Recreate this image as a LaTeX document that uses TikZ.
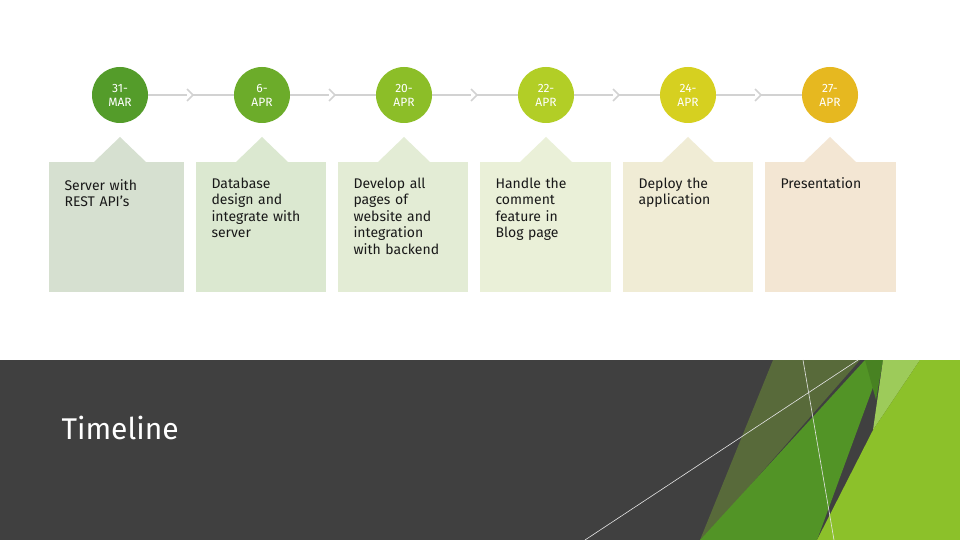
\documentclass[tikz,border=0pt]{standalone}
\usepackage{fontspec}
\setmainfont{Fira Sans}
\begin{document}
\begin{tikzpicture}[x=1pt,y=-1pt,
  dot/.style={circle,minimum size=56pt,inner sep=0pt,text=white,font=\fontsize{12}{13}\selectfont\lightweight,align=center},
  card/.style={inner sep=0pt},
  conn/.style={draw=gray!35,line width=1.2pt},
  lbl/.style={anchor=north west,align=left,text width=112pt,font=\fontsize{14}{16.5}\selectfont,text=black!90}]
\def\lightweight{\addfontfeatures{}}
\useasboundingbox (0,0) rectangle (960,540);
\fill[white] (0,0) rectangle (960,540);
% bottom band
\fill[black!75] (0,360) rectangle (960,540);
\fill[fill={rgb,255:red,88;green,106;blue,58}] (773,360) -- (860,360) -- (733,505) -- (700,540) -- cycle;
\fill[fill={rgb,255:red,82;green,148;blue,38}] (700,540) -- (865,360) -- (883,360) -- (817,540) -- cycle;
\fill[fill={rgb,255:red,72;green,130;blue,34}] (865,360) -- (883,360) -- (876,400) -- cycle;
\fill[fill={rgb,255:red,157;green,203;blue,90}] (883,360) -- (920,360) -- (873,430) -- cycle;
\fill[fill={rgb,255:red,140;green,193;blue,42}] (920,360) -- (960,360) -- (960,540) -- (817,540) -- (873,430) -- cycle;
\draw[white!80!gray,line width=0.6pt] (585,540) -- (858,360);
\draw[white!80!gray,line width=0.6pt] (803,360) -- (834,540);
\node[anchor=west,text=white,font=\fontsize{30}{34}\selectfont] (title) at (58,428) {Timeline};
% cards
\foreach \i/\xa/\xb/\cx/\col/\cc/\txt in {
 1/49/184/120/{rgb,255:red,214;green,224;blue,208}/{rgb,255:red,84;green,156;blue,42}/{Server with\\REST API’s},
 2/196/326/262/{rgb,255:red,219;green,232;blue,208}/{rgb,255:red,108;green,172;blue,42}/{Database\\design and\\integrate with\\server},
 3/338/468/404/{rgb,255:red,227;green,236;blue,213}/{rgb,255:red,140;green,190;blue,40}/{Develop all\\pages of\\website and\\integration\\with backend},
 4/480/611/546/{rgb,255:red,234;green,240;blue,216}/{rgb,255:red,178;green,206;blue,38}/{Handle the\\comment\\feature in\\Blog page},
 5/623/753/688/{rgb,255:red,240;green,236;blue,213}/{rgb,255:red,214;green,208;blue,32}/{Deploy the\\application},
 6/765/896/830/{rgb,255:red,243;green,230;blue,211}/{rgb,255:red,230;green,184;blue,32}/{Presentation}}{
  \fill[fill=\col] (\xa,162) rectangle (\xb,292);
  \fill[fill=\col] (\cx-26,162) -- (\cx,137) -- (\cx+26,162) -- cycle;
  \node[lbl] (t\i) at (\xa+12,\ifnum\i=1 176\else 174\fi) {\txt};
  \node[dot,fill=\cc] (c\i) at (\cx,95) {};
}
\node[text=white,align=center,font=\fontsize{12}{14}\selectfont] at (c1) {31-\\MAR};
\node[text=white,align=center,font=\fontsize{12}{14}\selectfont] at (c2) {6-\\APR};
\node[text=white,align=center,font=\fontsize{12}{14}\selectfont] at (c3) {20-\\APR};
\node[text=white,align=center,font=\fontsize{12}{14}\selectfont] at (c4) {22-\\APR};
\node[text=white,align=center,font=\fontsize{12}{14}\selectfont] at (c5) {24-\\APR};
\node[text=white,align=center,font=\fontsize{12}{14}\selectfont] at (c6) {27-\\APR};
\foreach \a/\b in {1/2,2/3,3/4,4/5,5/6}{
  \draw[conn] (c\a) -- (c\b);
  \path (c\a) -- (c\b) coordinate[pos=0.5] (m\a);
  \draw[conn,line width=1.6pt,fill=white] ([xshift=-4pt,yshift=-6pt]m\a) -- ([xshift=2pt]m\a) -- ([xshift=-4pt,yshift=6pt]m\a);
}
\end{tikzpicture}
\end{document}
